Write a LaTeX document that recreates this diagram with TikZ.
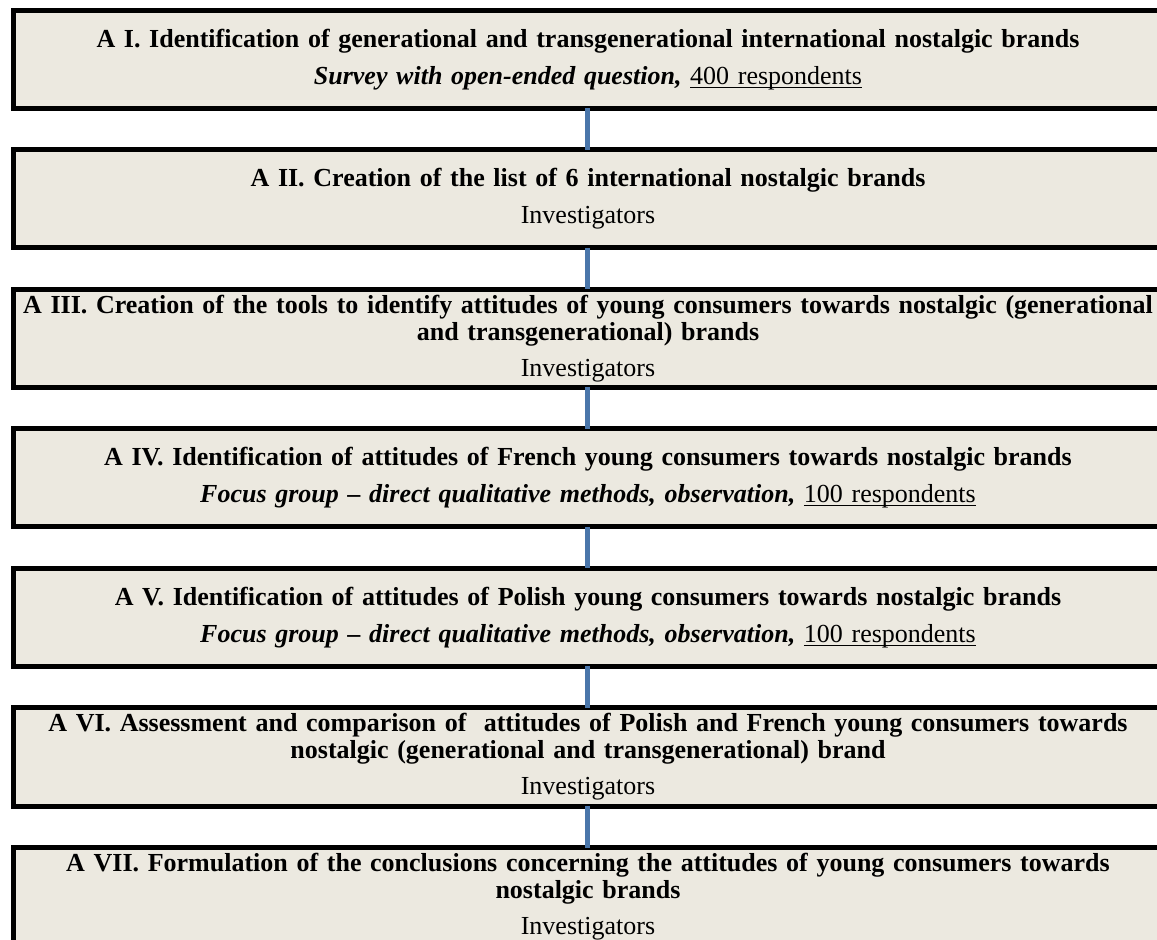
\documentclass[tikz,border=0pt]{standalone}
\usepackage{fontspec}
\setmainfont{Liberation Serif}
\usepackage{tikz}
\usetikzlibrary{positioning}
\usepackage{xcolor}
\definecolor{stagefill}{HTML}{ECE9E0}
\definecolor{linkblue}{HTML}{4A76AA}
\newcommand{\respondents}[1]{\underline{\smash{#1 respondents}}}

\begin{document}
\begin{tikzpicture}[
  font=\fontsize{13}{13.5}\selectfont,
  % Stage box style
  stage/.style={
    rectangle, draw=black, line width=2.5pt, fill=stagefill,
    minimum height=49pt, minimum width=574.5pt, text width=566pt,
    inner xsep=4.25pt, inner ysep=1pt, outer sep=0pt, align=center
  },
  link/.style={line width=2.5pt, draw=linkblue}
]

% Visible frame
\clip (-294pt,29.75pt) rectangle (284.5pt,-440.25pt);

% Stage nodes
\node[stage] (a1) at (0,0) {\textbf{A I. Identification of generational and transgenerational international nostalgic brands}\\[5pt]
  \textbf{\textit{Survey with open-ended question,}} \respondents{400}};
\node[stage, below=20.75pt of a1] (a2) {\textbf{A II. Creation of the list of 6 international nostalgic brands}\\[5pt]
  Investigators};
\node[stage, below=20.75pt of a2] (a3) {\textbf{A III. Creation of the tools to identify attitudes of young consumers towards nostalgic (generational\\ and transgenerational) brands}\\[4.5pt]
  Investigators};
\node[stage, below=20.75pt of a3] (a4) {\textbf{A IV. Identification of attitudes of French young consumers towards nostalgic brands}\\[5pt]
  \textbf{\textit{Focus group -- direct qualitative methods, observation,}} \respondents{100}};
\node[stage, below=20.75pt of a4] (a5) {\textbf{A V. Identification of attitudes of Polish young consumers towards nostalgic brands}\\[5pt]
  \textbf{\textit{Focus group -- direct qualitative methods, observation,}} \respondents{100}};
\node[stage, below=20.75pt of a5] (a6) {\textbf{A VI. Assessment and comparison of\ \ attitudes of Polish and French young consumers towards\\ nostalgic (generational and transgenerational) brand}\\[4.5pt]
  Investigators};
\node[stage, below=20.75pt of a6] (a7) {\textbf{A VII. Formulation of the conclusions concerning the attitudes of young consumers towards\\ nostalgic brands}\\[4.5pt]
  Investigators};

% Links
\draw[link] (a1) -- (a2);
\draw[link] (a2) -- (a3);
\draw[link] (a3) -- (a4);
\draw[link] (a4) -- (a5);
\draw[link] (a5) -- (a6);
\draw[link] (a6) -- (a7);

\end{tikzpicture}
\end{document}
